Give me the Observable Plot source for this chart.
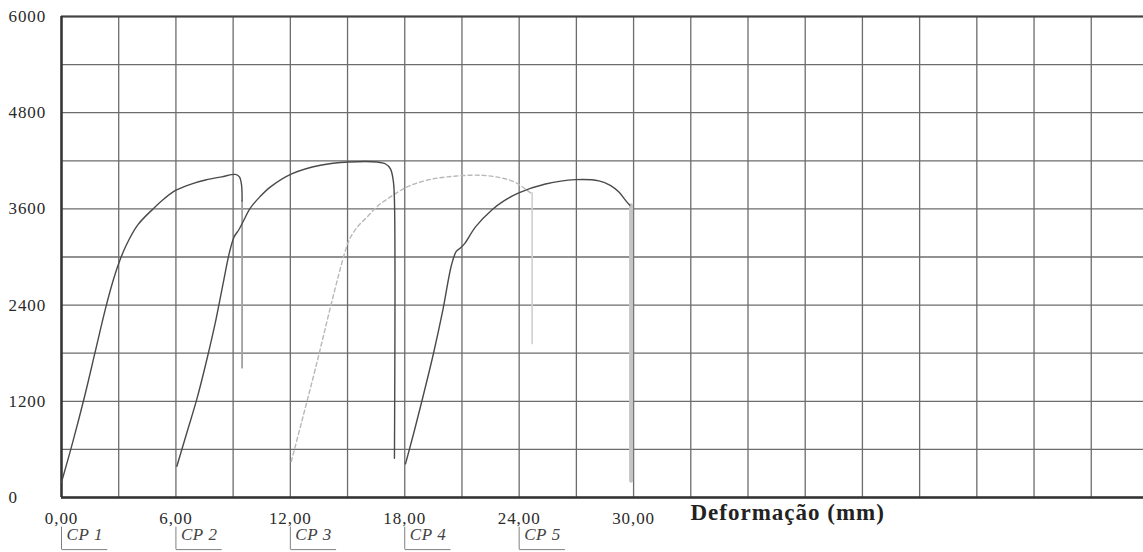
<!DOCTYPE html>
<html>
<head>
<meta charset="utf-8">
<script src="https://cdn.jsdelivr.net/npm/d3@7"></script>
<script src="https://cdn.jsdelivr.net/npm/@observablehq/plot@0.6"></script>
<style>
  html, body { margin: 0; padding: 0; background: #fff; }
  #chart svg { font-family: "Liberation Serif", "Times New Roman", serif !important; font-size: 17px !important; }
  #chart svg text { letter-spacing: 0.9px; }
  #chart svg .xtitle text { font-size: 23px; letter-spacing: 1px; }
  #chart svg .cplabel text { letter-spacing: 0.6px; }
</style>
</head>
<body>
<div id="chart"></div>
<script>
// ---- Data (deformação em mm, carga) ----
const cp1X = [0, 0.6, 1.2, 1.75, 2.3, 2.7, 3.0, 3.4, 4.0, 4.8, 5.4, 5.98, 6.8, 7.55, 8.4, 9.12, 9.33, 9.44, 9.47];
const cp1Y = [190, 700, 1250, 1800, 2350, 2700, 2920, 3150, 3400, 3600, 3730, 3830, 3910, 3960, 4000, 4030, 4000, 3900, 3700];
const cp1DropX = [9.47, 9.47];
const cp1DropY = [3700, 1620];

const cp2X = [6.05, 6.6, 7.1, 7.6, 8.1, 8.5, 8.8, 9.05, 9.3, 9.5, 9.9, 10.4, 10.96, 12.1, 13.58, 15.07, 16.55, 17.0, 17.25, 17.4, 17.46, 17.46];
const cp2Y = [390, 830, 1230, 1700, 2220, 2700, 3050, 3250, 3340, 3430, 3610, 3750, 3875, 4040, 4145, 4185, 4185, 4160, 4100, 3950, 3700, 490];

const cp3X = [12.05, 12.6, 13.2, 13.7, 14.15, 14.55, 14.85, 15.1, 15.5, 16.03, 16.6, 17.25, 18.13, 19.2, 20.23, 21.97, 23.0, 23.72, 24.2, 24.6];
const cp3Y = [450, 950, 1500, 1980, 2420, 2790, 3050, 3220, 3370, 3500, 3640, 3750, 3875, 3960, 4000, 4020, 3990, 3940, 3870, 3800];
const cp3DropX = [24.68, 24.68];
const cp3DropY = [3800, 1920];

const cp4X = [18.04, 18.5, 19.0, 19.5, 20.0, 20.45, 20.7, 20.9, 21.15, 21.71, 22.58, 23.2, 23.98, 25.38, 26.95, 28.18, 28.8, 29.23, 29.6, 29.8];
const cp4Y = [420, 830, 1300, 1790, 2340, 2900, 3070, 3110, 3170, 3375, 3590, 3700, 3800, 3910, 3965, 3950, 3890, 3810, 3700, 3645];
const cp4DropX = [29.87, 29.87];
const cp4DropY = [3645, 210];

const cpLabels = ["CP 1", "CP 2", "CP 3", "CP 4", "CP 5"];
const cpOffsets = [0, 6, 12, 18, 24];

const xTicks = [0, 6, 12, 18, 24, 30];
const yTicks = [0, 1200, 2400, 3600, 4800, 6000];
const xTitle = "Deformação (mm)";

// ---- Build tables ----
const rows = (xs, ys) => xs.map((x, i) => ({x, y: ys[i]}));
const cp1 = rows(cp1X, cp1Y), cp2 = rows(cp2X, cp2Y), cp3 = rows(cp3X, cp3Y), cp4 = rows(cp4X, cp4Y);
const cp1Drop = rows(cp1DropX, cp1DropY), cp3Drop = rows(cp3DropX, cp3DropY), cp4Drop = rows(cp4DropX, cp4DropY);
const cpTable = cpLabels.map((label, i) => ({label, x: cpOffsets[i]}));

const fmt = d => d.toFixed(2).replace(".", ",");
const gridColor = "#6c6c6c";

const chart = Plot.plot({
  width: 1143,
  height: 552,
  marginTop: 16,
  marginLeft: 61,
  marginRight: 0,
  marginBottom: 55,
  style: {fontFamily: "Liberation Serif", fontSize: "17px", color: "#2a2a2a", background: "#fff"},
  x: {domain: [0, 56.74]},
  y: {domain: [0, 6000]},
  marks: [
    Plot.gridX({interval: 3, stroke: gridColor, strokeOpacity: 1, strokeWidth: 1.3}),
    Plot.gridY({interval: 600, stroke: gridColor, strokeOpacity: 1, strokeWidth: 1.3}),
    Plot.ruleY([0], {stroke: "#333", strokeWidth: 2.5}),
    Plot.ruleY([6000], {stroke: "#444", strokeWidth: 2}),
    Plot.ruleX([0], {stroke: "#333", strokeWidth: 2.5}),
    Plot.axisX({ticks: xTicks, tickSize: 0, tickPadding: 14, tickFormat: fmt, label: null, fontSize: 17}),
    Plot.axisY({ticks: yTicks, tickSize: 0, tickPadding: 53, textAnchor: "start", label: null, tickFormat: d => String(d), fontSize: 17}),
    // curves
    Plot.line(cp3, {x: "x", y: "y", stroke: "#b8b8b8", strokeWidth: 1.4, strokeDasharray: "4,3", curve: "catmull-rom"}),
    Plot.line(cp3Drop, {x: "x", y: "y", stroke: "#cfcfcf", strokeWidth: 1.6}),
    Plot.line(cp1Drop, {x: "x", y: "y", stroke: "#a0a0a0", strokeWidth: 1.8}),
    Plot.line(cp4Drop, {x: "x", y: "y", stroke: "#c4c4c4", strokeWidth: 4}),
    Plot.line(cp1, {x: "x", y: "y", stroke: "#4a4a4a", strokeWidth: 1.4, curve: "catmull-rom"}),
    Plot.line(cp2, {x: "x", y: "y", stroke: "#4a4a4a", strokeWidth: 1.4, curve: "catmull-rom"}),
    Plot.line(cp4, {x: "x", y: "y", stroke: "#4a4a4a", strokeWidth: 1.4, curve: "catmull-rom"}),
    // CP labels with bracket
    Plot.ruleX(cpTable, {x: "x", y1: -370, y2: -650, stroke: "#808080", strokeWidth: 1}),
    Plot.link(cpTable, {x1: "x", x2: d => d.x + 2.4, y1: -650, y2: -650, stroke: "#808080", strokeWidth: 1}),
    Plot.text(cpTable, {x: "x", text: "label", frameAnchor: "bottom", dy: 42, dx: 5, textAnchor: "start", fontStyle: "italic", fill: "#444", fontSize: 17, className: "cplabel"}),
    // axis title
    Plot.text([xTitle], {frameAnchor: "bottom-left", dx: 629, dy: 22, textAnchor: "start", fontWeight: "bold", fontSize: 23, fill: "#222", className: "xtitle"})
  ]
});
document.getElementById("chart").appendChild(chart);
</script>
</body>
</html>
